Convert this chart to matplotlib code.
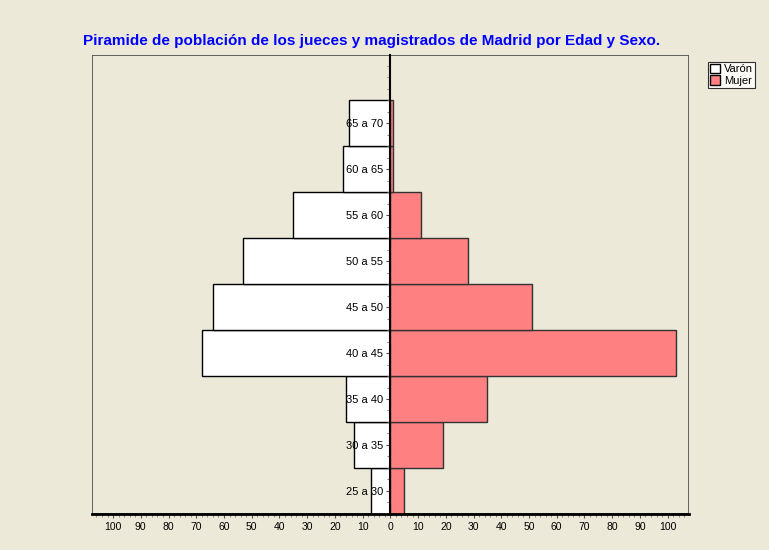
import numpy as np
import matplotlib
matplotlib.use("Agg")
import matplotlib.pyplot as plt
from matplotlib.patches import Rectangle, Patch
from matplotlib.ticker import MultipleLocator, FuncFormatter

grupos = ["25 a 30", "30 a 35", "35 a 40", "40 a 45", "45 a 50",
          "50 a 55", "55 a 60", "60 a 65", "65 a 70"]
varon = [7, 13, 16, 68, 64, 53, 35, 17, 15]
mujer = [5, 19, 35, 103, 51, 28, 11, 1, 1]

plt.rcParams['font.family'] = ['Liberation Sans', 'DejaVu Sans']
bg = '#ECE9D8'

fig = plt.figure(figsize=(7.69, 5.5), dpi=100, facecolor=bg)
ax = fig.add_axes([0.1196, 0.0655, 0.776, 0.8345], facecolor=bg)

y = np.arange(len(grupos))
ax.barh(y, [-v for v in varon], height=1.0, color='white', edgecolor='black', linewidth=1)
ax.barh(y, mujer, height=1.0, color='#FF8080', edgecolor='#333333', linewidth=1)

ax.set_xlim(-107.6, 107.6)
ax.set_ylim(-0.5, 9.48)

# eje vertical en el cero, marco gris alrededor
ax.spines['left'].set_position(('data', 0))
ax.spines['left'].set_linewidth(1.5)
ax.spines['left'].set_zorder(3)
ax.spines['bottom'].set_linewidth(2)
ax.spines['top'].set_visible(False)
ax.spines['right'].set_visible(False)
ax.add_patch(Rectangle((0, 0), 1, 1, transform=ax.transAxes, fill=False,
                       edgecolor='#555555', linewidth=1.3, zorder=0.5))

ax.set_yticks(y)
ax.set_yticklabels(grupos, fontsize=8)
ax.yaxis.set_minor_locator(MultipleLocator(0.25))
ax.tick_params(axis='y', which='major', length=3, pad=2, color='#555555')
ax.tick_params(axis='y', which='minor', length=2, color='#777777')

ax.xaxis.set_major_locator(MultipleLocator(10))
ax.xaxis.set_minor_locator(MultipleLocator(2))
ax.xaxis.set_major_formatter(FuncFormatter(lambda v, p: '%d' % abs(round(v))))
ax.tick_params(axis='x', which='major', length=3, labelsize=7.5, pad=3, color='#555555')
ax.tick_params(axis='x', which='minor', length=2, color='#777777')

fig.text(0.483, 0.926, "Piramide de población de los jueces y magistrados de Madrid por Edad y Sexo.",
         ha='center', va='center', color='#0000FF', fontsize=11, fontweight='bold')

handles = [Patch(facecolor='white', edgecolor='black', label='Varón'),
           Patch(facecolor='#FF8080', edgecolor='black', label='Mujer')]
leg = fig.legend(handles=handles, loc='upper left', bbox_to_anchor=(0.921, 0.888),
                 fontsize=8, frameon=True, fancybox=False, handlelength=0.9,
                 handleheight=0.9, handletextpad=0.3, borderpad=0.2,
                 labelspacing=0.1, borderaxespad=0)
leg.get_frame().set_edgecolor('black')
leg.get_frame().set_linewidth(0.8)

plt.savefig("out.png", dpi=100, facecolor=bg)
